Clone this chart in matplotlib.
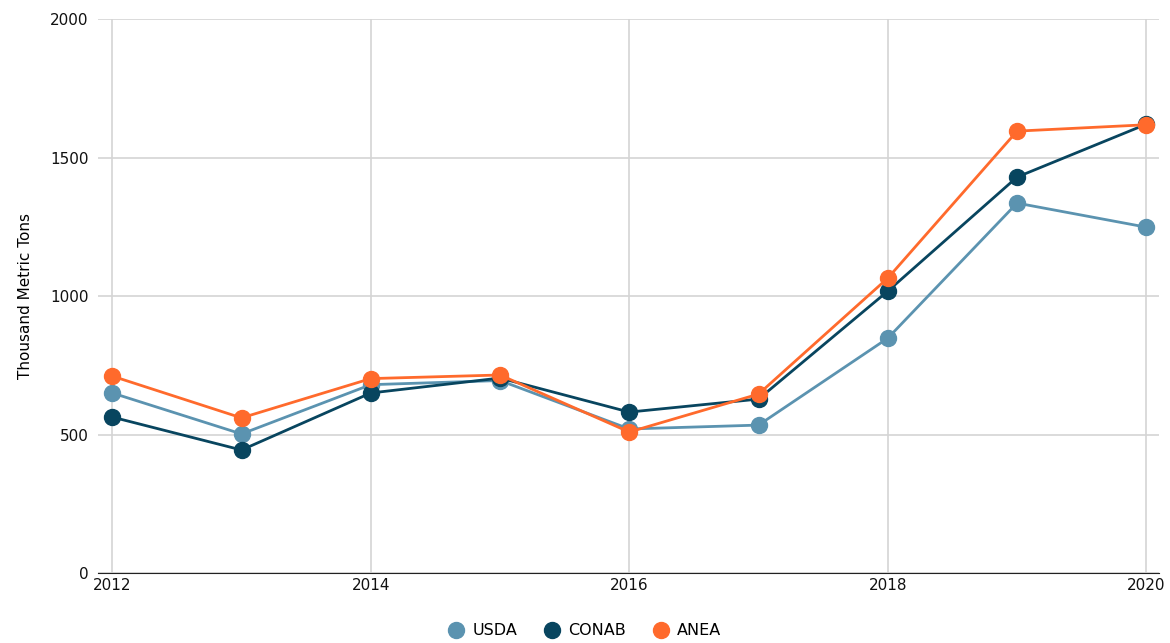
import numpy as np
import matplotlib.pyplot as plt

plt.rcParams["font.family"] = ["DejaVu Sans"]

# Data
years = [2012, 2013, 2014, 2015, 2016, 2017, 2018, 2019, 2020]
usda = [650, 502, 680, 695, 520, 534, 848, 1336, 1249]
conab = [563, 444, 650, 704, 581, 628, 1018, 1430, 1621]
anea = [711, 560, 702, 715, 509, 646, 1065, 1596, 1619]

series = [("USDA", usda, "#5b93b0"), ("CONAB", conab, "#08455f"), ("ANEA", anea, "#ff6a2c")]

fig = plt.figure(figsize=(11.7, 6.43), dpi=100)
ax = fig.add_axes([0.0838, 0.109, 0.907, 0.861])

for name, vals, col in series:
    ax.plot(years, vals, "-o", color=col, lw=2.0, ms=11.5, label=name, zorder=3)

ax.set_xlim(2011.89, 2020.1)
ax.set_ylim(0, 2000)
ax.set_xticks([2012, 2014, 2016, 2018, 2020])
ax.set_yticks([0, 500, 1000, 1500, 2000])
ax.grid(True, color="#d4d4d4", lw=1.2)
ax.set_axisbelow(True)
for s in ["top", "right", "left"]:
    ax.spines[s].set_visible(False)
ax.spines["bottom"].set_color("#222222")
ax.tick_params(axis="both", length=0, labelsize=11, colors="#111111")
ax.tick_params(axis="y", pad=7)
ax.tick_params(axis="x", pad=4)
ax.set_ylabel("Thousand Metric Tons", fontsize=11, labelpad=12)

fig.legend(loc="lower center", ncol=3, frameon=False, fontsize=11.5,
           bbox_to_anchor=(0.5, -0.015), handletextpad=0.5, columnspacing=1.7,
           handlelength=1.0)
for h in fig.legends[0].legend_handles:
    h.set_linestyle("none")

fig.savefig("out.png", dpi=100)
